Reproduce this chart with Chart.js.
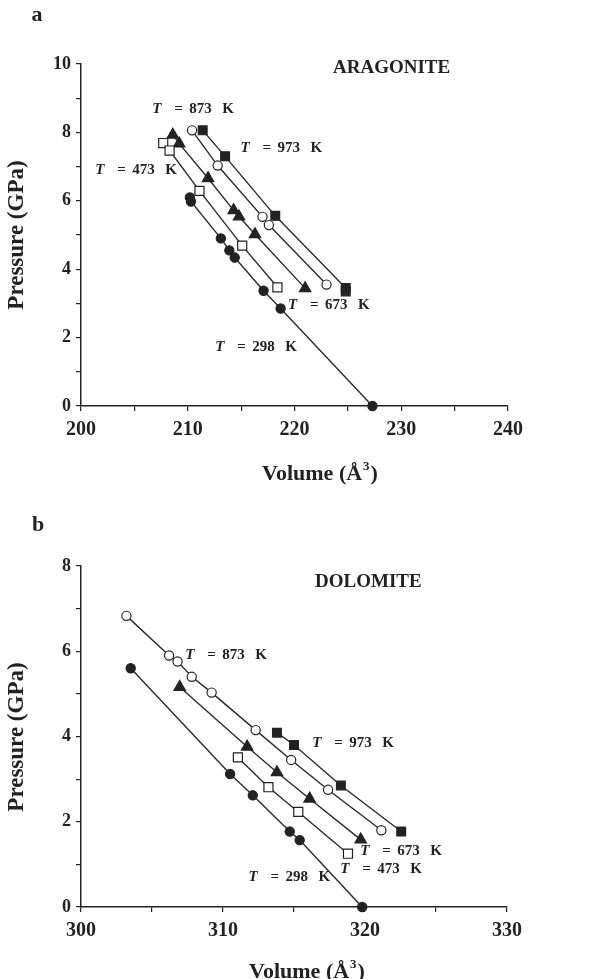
<!DOCTYPE html>
<html lang="en">
<head>
<meta charset="UTF-8">
<title>Aragonite and dolomite isotherms</title>
<script src="https://cdn.jsdelivr.net/npm/chart.js"></script>
<style>
  html, body { margin: 0; padding: 0; background: #fff; }
  .panel { position: absolute; left: 0; width: 611px; }
</style>
</head>
<body>
<div class="panel" style="top:0;height:490px"><canvas id="chartA"></canvas></div>
<div class="panel" style="top:490px;height:489px"><canvas id="chartB"></canvas></div>

<script>
// Aragonite: volume (Å^3) against pressure (GPa) at each temperature
const aragV298 = [210.2, 210.3, 213.1, 213.9, 214.4, 217.1, 218.7, 227.3];
const aragP298 = [6.10, 5.98, 4.90, 4.55, 4.34, 3.37, 2.85, 0];
const aragV473 = [207.7, 208.3, 211.1, 215.1, 218.4];
const aragP473 = [7.69, 7.47, 6.29, 4.69, 3.47];
const aragV673 = [208.6, 209.2, 211.9, 214.3, 214.8, 216.3, 221.0];
const aragP673 = [7.93, 7.67, 6.66, 5.72, 5.54, 5.02, 3.44];
const aragV873 = [210.4, 212.8, 217.0, 217.6, 223.0];
const aragP873 = [8.06, 7.03, 5.53, 5.29, 3.55];
const aragV973 = [211.4, 213.5, 218.2, 224.8, 224.8];
const aragP973 = [8.06, 7.30, 5.56, 3.45, 3.35];

// Dolomite
const dolV298 = [303.5, 310.5, 312.1, 314.7, 315.4, 319.8];
const dolP298 = [5.60, 3.12, 2.62, 1.77, 1.57, 0];
const dolV473 = [311.05, 313.2, 315.3, 318.8];
const dolP473 = [3.51, 2.81, 2.23, 1.25];
const dolV673 = [306.95, 311.7, 313.8, 316.1, 319.7];
const dolP673 = [5.16, 3.76, 3.16, 2.54, 1.58];
const dolV873 = [303.2, 306.2, 306.8, 307.8, 309.2, 312.3, 314.8, 317.4, 321.15];
const dolP873 = [6.83, 5.90, 5.76, 5.40, 5.03, 4.15, 3.45, 2.75, 1.80];
const dolV973 = [313.8, 315.0, 318.3, 322.55];
const dolP973 = [4.09, 3.80, 2.85, 1.77];

const temps = ['298', '473', '673', '873', '973'];

// isotherm label anchors (left edge of "T"), in data units
const aragLabelV = [212.57, 201.34, 219.4, 206.68, 214.93];
const aragLabelP = [1.73, 6.91, 2.96, 8.69, 7.55];
const dolLabelV = [311.79, 318.26, 319.67, 307.35, 316.29];
const dolLabelP = [0.71, 0.88, 1.32, 5.91, 3.85];

const INK = '#222';
const SERIF = '"Liberation Serif", "Times New Roman", serif';

// one marker per temperature
const markers = {
  '298': { shape: 'circle', r: 4.6, open: false },
  '473': { shape: 'rect', r: 6.4, open: true },
  '673': { shape: 'triangle', r: 6.6, open: false },
  '873': { shape: 'circle', r: 4.6, open: true },
  '973': { shape: 'rect', r: 6.2, open: false }
};

function isotherm(vol, pres, t) {
  const m = markers[t];
  return {
    label: t + ' K',
    data: vol.map((v, i) => ({ x: v, y: pres[i] })),
    showLine: true,
    clip: false,
    borderColor: '#2a2a2a',
    borderWidth: 1.4,
    pointStyle: m.shape,
    pointRadius: m.r,
    pointBackgroundColor: m.open ? '#fff' : INK,
    pointBorderColor: INK,
    pointBorderWidth: 1.2
  };
}

function axis(min, max, step, every, tickFont, pad, fit) {
  return {
    type: 'linear',
    min: min,
    max: max,
    afterFit: fit,
    border: { display: true, color: INK, width: 1.5 },
    grid: { drawOnChartArea: false, drawTicks: true, tickLength: 5, color: INK, lineWidth: 1.2 },
    ticks: {
      stepSize: step,
      autoSkip: false,
      maxRotation: 0,
      padding: pad,
      color: INK,
      font: { family: SERIF, size: tickFont, weight: 'bold' },
      callback: v => (Math.round(v) % every === 0 ? String(v) : '')
    }
  };
}

// draws one "T = xxx K" label piece by piece
function drawTLabel(ctx, x, y, t) {
  ctx.textBaseline = 'middle';
  ctx.textAlign = 'left';
  ctx.font = 'italic bold 15px ' + SERIF;
  ctx.fillText('T', x, y);
  ctx.font = 'bold 15px ' + SERIF;
  ctx.fillText('=', x + 22, y);
  ctx.fillText(t, x + 37, y);
  ctx.fillText('K', x + 70, y);
}

function textPlugin(cfg) {
  return {
    id: 'panelText',
    afterDraw(chart) {
      const ctx = chart.ctx;
      const xs = chart.scales.x, ys = chart.scales.y;
      ctx.save();
      ctx.fillStyle = INK;

      ctx.font = 'bold 22px ' + SERIF;
      ctx.textBaseline = 'middle';
      ctx.textAlign = 'center';
      ctx.fillText(cfg.letter, cfg.letterPos[0], cfg.letterPos[1]);

      ctx.font = 'bold 19px ' + SERIF;
      ctx.textAlign = 'left';
      ctx.fillText(cfg.name, cfg.namePos[0], cfg.namePos[1]);

      temps.forEach((t, i) => {
        drawTLabel(ctx, xs.getPixelForValue(cfg.labelV[i]), ys.getPixelForValue(cfg.labelP[i]), t);
      });

      // y axis title
      ctx.save();
      ctx.translate(cfg.yTitle[0], cfg.yTitle[1]);
      ctx.rotate(-Math.PI / 2);
      ctx.font = 'bold 23px ' + SERIF;
      ctx.textAlign = 'center';
      ctx.textBaseline = 'middle';
      ctx.fillText('Pressure (GPa)', 0, 0);
      ctx.restore();

      // x axis title with superscript
      const big = 'bold 22px ' + SERIF, small = 'bold 13px ' + SERIF;
      ctx.font = big;
      const w1 = ctx.measureText('Volume (Å').width;
      const w3 = ctx.measureText(')').width;
      ctx.font = small;
      const w2 = ctx.measureText('3').width + 2;
      let x0 = cfg.xTitle[0] - (w1 + w2 + w3) / 2;
      const y0 = cfg.xTitle[1];
      ctx.textAlign = 'left';
      ctx.textBaseline = 'alphabetic';
      ctx.font = big;
      ctx.fillText('Volume (Å', x0, y0 + 7);
      ctx.font = small;
      ctx.fillText('3', x0 + w1 + 1, y0 - 3);
      ctx.font = big;
      ctx.fillText(')', x0 + w1 + w2, y0 + 7);
      ctx.restore();
    }
  };
}

function makeChart(id, sets, scaleCfg, padding, text) {
  return new Chart(document.getElementById(id), {
    type: 'scatter',
    data: { datasets: sets },
    options: {
      responsive: true,
      maintainAspectRatio: false,
      animation: false,
      layout: { padding: padding },
      plugins: { legend: { display: false }, tooltip: { enabled: false } },
      scales: scaleCfg
    },
    plugins: [textPlugin(text)]
  });
}

makeChart('chartA', [
  isotherm(aragV298, aragP298, '298'),
  isotherm(aragV473, aragP473, '473'),
  isotherm(aragV673, aragP673, '673'),
  isotherm(aragV873, aragP873, '873'),
  isotherm(aragV973, aragP973, '973')
], {
  x: axis(200, 240, 5, 10, 20, 7, s => { s.height = 84; }),
  y: axis(0, 10, 1, 2, 18, 5, s => { s.width = 81; })
}, { top: 64, right: 103, bottom: 0, left: 0 }, {
  letter: 'a', letterPos: [37, 15],
  name: 'ARAGONITE', namePos: [333, 68],
  labelV: aragLabelV, labelP: aragLabelP,
  yTitle: [17, 235], xTitle: [320, 473]
});

makeChart('chartB', [
  isotherm(dolV298, dolP298, '298'),
  isotherm(dolV473, dolP473, '473'),
  isotherm(dolV673, dolP673, '673'),
  isotherm(dolV873, dolP873, '873'),
  isotherm(dolV973, dolP973, '973')
], {
  x: axis(300, 330, 5, 10, 20, 7, s => { s.height = 72; }),
  y: axis(0, 8, 1, 2, 18, 5, s => { s.width = 81; })
}, { top: 76, right: 104, bottom: 0, left: 0 }, {
  letter: 'b', letterPos: [38, 35],
  name: 'DOLOMITE', namePos: [315, 92],
  labelV: dolLabelV, labelP: dolLabelP,
  yTitle: [17, 247], xTitle: [307, 481]
});
</script>
</body>
</html>
